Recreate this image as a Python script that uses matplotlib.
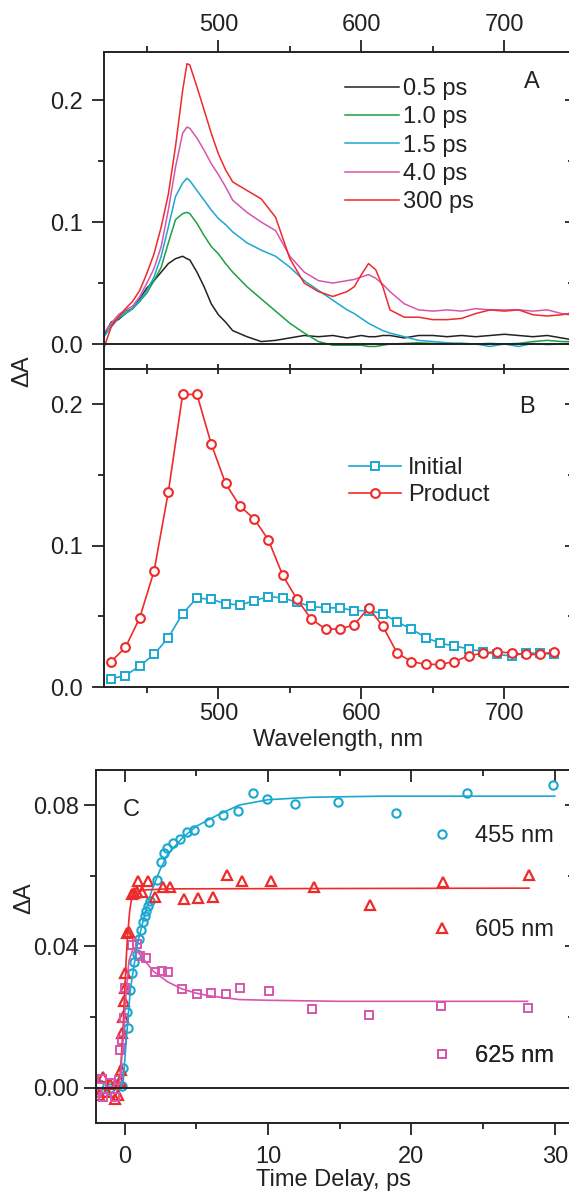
import numpy as np
import matplotlib.pyplot as plt
from matplotlib.ticker import MultipleLocator, NullFormatter

plt.rcParams['font.family'] = ['Liberation Sans', 'DejaVu Sans']

# ---- panel A: transient spectra ----
wl_a = [420, 425, 430, 435, 440, 445, 450, 455, 460, 465, 470, 475, 478, 480, 485,
        490, 495, 500, 505, 510, 520, 530, 540, 550, 560, 570, 580, 590, 595, 600,
        605, 610, 615, 620, 630, 640, 650, 660, 670, 680, 690, 700, 710, 720, 730,
        740, 745]
a_05 = [0.007, 0.018, 0.020, 0.025, 0.029, 0.037, 0.046, 0.052, 0.059, 0.066, 0.070, 0.072, 0.070, 0.069, 0.059,
        0.047, 0.033, 0.024, 0.018, 0.011, 0.006, 0.002, 0.003, 0.005, 0.007, 0.006, 0.007, 0.005, 0.006, 0.007,
        0.006, 0.006, 0.007, 0.007, 0.005, 0.007, 0.007, 0.006, 0.007, 0.006, 0.007, 0.008, 0.007, 0.006, 0.007,
        0.005, 0.004]
a_10 = [0.009, 0.016, 0.022, 0.027, 0.029, 0.035, 0.042, 0.052, 0.063, 0.083, 0.102, 0.107, 0.108, 0.107, 0.099,
        0.089, 0.080, 0.074, 0.066, 0.059, 0.047, 0.037, 0.027, 0.017, 0.009, 0.002, -0.001, -0.001, -0.001, -0.001,
        -0.002, -0.002, -0.001, 0.000, 0.0005, 0.001, 0.0005, 0.000, 0.0005, 0.000, 0.0005, 0.000, 0.0005, 0.002, 0.003,
        0.002, 0.002]
a_15 = [0.006, 0.014, 0.021, 0.025, 0.029, 0.036, 0.044, 0.055, 0.072, 0.096, 0.121, 0.132, 0.136, 0.134, 0.126,
        0.118, 0.110, 0.103, 0.098, 0.092, 0.083, 0.077, 0.072, 0.063, 0.052, 0.044, 0.036, 0.028, 0.025, 0.021,
        0.017, 0.014, 0.011, 0.009, 0.006, 0.003, 0.002, 0.001, 0.0005, 0.000, -0.002, 0.000, -0.002, 0.0005, -0.0005,
        0.000, 0.0005]
a_40 = [0.009, 0.017, 0.024, 0.028, 0.031, 0.039, 0.050, 0.062, 0.080, 0.110, 0.145, 0.173, 0.178, 0.177, 0.169,
        0.159, 0.148, 0.139, 0.129, 0.118, 0.108, 0.100, 0.093, 0.072, 0.059, 0.052, 0.050, 0.052, 0.053, 0.055,
        0.057, 0.054, 0.049, 0.043, 0.033, 0.028, 0.027, 0.028, 0.027, 0.029, 0.028, 0.028, 0.028, 0.027, 0.028,
        0.025, 0.024]
a_300 = [-0.003, 0.014, 0.022, 0.029, 0.035, 0.044, 0.058, 0.074, 0.096, 0.123, 0.162, 0.208, 0.230, 0.229, 0.211,
         0.192, 0.173, 0.156, 0.143, 0.133, 0.126, 0.119, 0.104, 0.070, 0.050, 0.043, 0.039, 0.043, 0.047, 0.057,
         0.066, 0.061, 0.047, 0.028, 0.022, 0.022, 0.020, 0.020, 0.021, 0.025, 0.028, 0.027, 0.028, 0.024, 0.023,
         0.024, 0.025]
labels_a = ['0.5 ps', '1.0 ps', '1.5 ps', '4.0 ps', '300 ps']

# ---- panel B: initial / product spectra ----
wl_b = [425, 435, 445, 455, 465, 475, 485, 495, 505, 515, 525, 535, 545, 555, 565, 575,
        585, 595, 605, 615, 625, 635, 645, 655, 665, 675, 685, 695, 705, 715, 725, 735]
initial = [0.006, 0.008, 0.015, 0.023, 0.035, 0.052, 0.063, 0.062, 0.059, 0.058, 0.061, 0.064,
           0.063, 0.060, 0.057, 0.056, 0.056, 0.054, 0.054, 0.052, 0.046, 0.041, 0.035, 0.031,
           0.029, 0.027, 0.025, 0.023, 0.022, 0.024, 0.024, 0.023]
product = [0.018, 0.028, 0.049, 0.082, 0.138, 0.207, 0.207, 0.172, 0.144, 0.128, 0.119, 0.104,
           0.079, 0.062, 0.048, 0.041, 0.041, 0.044, 0.056, 0.043, 0.024, 0.018, 0.016, 0.016,
           0.018, 0.022, 0.024, 0.025, 0.024, 0.023, 0.023, 0.025]

# ---- panel C: kinetics ----
t_455 = [-1.8, -1.4, -1.0, -0.6, -0.2, -0.1, 0.13, 0.25, 0.38, 0.53, 0.68, 0.88, 1.0, 1.13, 1.26,
         1.4, 1.5, 1.64, 1.76, 2.27, 2.52, 2.77, 2.95, 3.4, 3.86, 4.36, 4.87, 5.87, 6.88, 7.87,
         8.95, 9.9, 11.9, 14.9, 18.9, 23.9, 29.9]
d_455 = [0.001, -0.001, 0.000, 0.001, 0.0005, 0.0056, 0.0216, 0.0169, 0.0278, 0.0325, 0.0355, 0.038, 0.042, 0.0447, 0.047,
         0.0485, 0.050, 0.0515, 0.053, 0.0588, 0.064, 0.0664, 0.0678, 0.0692, 0.0703, 0.0725, 0.0728, 0.0752, 0.0773, 0.0782,
         0.0833, 0.0816, 0.0802, 0.0809, 0.0778, 0.0833, 0.0856]
t_605 = [-1.8, -1.5, -1.2, -1.0, -0.7, -0.5, -0.3, -0.23, -0.18, -0.13, -0.08, 0.0, 0.02, 0.13,
         0.33, 0.5, 0.68, 0.83, 0.93, 1.2, 1.64, 2.14, 2.65, 3.15, 4.16, 5.12, 6.18, 7.13, 8.19,
         10.2, 13.18, 17.14, 22.18, 28.23]
d_605 = [-0.002, 0.003, -0.001, 0.001, -0.003, -0.002, 0.002, 0.0052, 0.0155, 0.0202, 0.0245, 0.0282, 0.0325, 0.0438,
         0.044, 0.0548, 0.0552, 0.0555, 0.0584, 0.0555, 0.0586, 0.0541, 0.0569, 0.0568, 0.0535, 0.0536, 0.0541, 0.0602, 0.0586,
         0.0586, 0.0568, 0.0518, 0.0581, 0.0602]
t_625 = [-1.9, -1.6, -1.5, -1.0, -0.68, -0.38, -0.3, -0.18, -0.05, 0.0, 0.5, 0.88, 1.06, 1.5,
         2.1, 2.57, 3.0, 4.03, 5.04, 6.05, 7.06, 8.07, 10.08, 13.1, 17.07, 22.06, 28.1]
d_625 = [-0.0014, 0.0024, -0.0025, 0.0014, -0.0025, 0.0022, 0.0108, 0.0136, 0.0198, 0.0282, 0.0405, 0.0408, 0.0372, 0.0367,
         0.0328, 0.0332, 0.0327, 0.028, 0.0266, 0.0268, 0.0266, 0.0282, 0.0273, 0.0223, 0.0206, 0.0233, 0.0226]

# fitted curves
tf_455 = [-0.5, -0.3, -0.1, 0.1, 0.4, 0.9, 1.4, 1.9, 2.5, 3.0, 4.0, 5.0, 6.4, 8.0, 10, 13, 18, 30]
ff_455 = [0.0, 0.0, 0.002, 0.013, 0.028, 0.041, 0.049, 0.056, 0.062, 0.066, 0.0706, 0.074, 0.077, 0.080,
          0.0815, 0.0822, 0.0825, 0.0825]
tf_605 = [-0.5, -0.3, -0.1, 0.0, 0.1, 0.2, 0.35, 0.5, 0.8, 1.5, 3.0, 28.2]
ff_605 = [0.0, 0.004, 0.018, 0.027, 0.036, 0.043, 0.050, 0.054, 0.0555, 0.056, 0.0563, 0.0565]
tf_625 = [-0.5, -0.3, -0.1, 0.1, 0.3, 0.6, 1.0, 1.5, 2.0, 3.0, 4.0, 5.0, 6.0, 8.0, 10, 15, 28.1]
ff_625 = [0.0, 0.003, 0.014, 0.027, 0.036, 0.0395, 0.038, 0.0355, 0.033, 0.030, 0.028, 0.0268, 0.026,
          0.025, 0.0248, 0.0245, 0.0245]

c_black = '#222222'
c_green = '#1f9e48'
c_cyan = '#1aa8d0'
c_pink = '#d656ad'
c_red = '#ee2a2a'
txt = '#222222'
FS = 17

fig = plt.figure(figsize=(5.69, 11.96), dpi=100)
W, H = 569, 1196

def box(l, t, r, b):
    return [l / W, 1 - b / H, (r - l) / W, (b - t) / H]

axA = fig.add_axes(box(104, 52, 572, 369))
axB = fig.add_axes(box(104, 369, 572, 687))
axC = fig.add_axes(box(96, 770, 572, 1123))

def sec_ticks(ax, side, major, minor, direction, lmaj, lmin):
    # extra tick row on top / right with its own direction
    if side == 'top':
        s = ax.secondary_xaxis('top')
        axis = s.xaxis
    else:
        s = ax.secondary_yaxis('right')
        axis = s.yaxis
    axis.set_major_locator(MultipleLocator(major))
    axis.set_minor_locator(MultipleLocator(minor))
    axis.set_major_formatter(NullFormatter())
    for sp in s.spines.values():
        sp.set_visible(False)
    s.tick_params(which='both', direction=direction, width=1.3, colors=txt)
    s.tick_params(which='major', length=lmaj)
    s.tick_params(which='minor', length=lmin)
    return s

for ax in (axA, axB, axC):
    for s in ax.spines.values():
        s.set_linewidth(1.4)
        s.set_color(txt)
    ax.spines['right'].set_visible(False)
    ax.tick_params(which='both', width=1.3, colors=txt, labelsize=FS, labelcolor=txt, direction='out')
    ax.tick_params(which='major', length=8.5)
    ax.tick_params(which='minor', length=4.5)

# panel A
colors_a = [c_black, c_green, c_cyan, c_pink, c_red]
for y, c, lab in zip([a_05, a_10, a_15, a_40, a_300], colors_a, labels_a):
    axA.plot(wl_a, y, color=c, lw=1.1, label=lab)
axA.axhline(0, color=txt, lw=1.4)
axA.set_xlim(420, 747.3)
axA.set_ylim(-0.0205, 0.2396)
axA.xaxis.set_major_locator(MultipleLocator(100))
axA.xaxis.set_minor_locator(MultipleLocator(50))
axA.set_yticks([0.0, 0.1, 0.2], ['0.0', '0.1', '0.2'])
axA.yaxis.set_minor_locator(MultipleLocator(0.05))
axA.tick_params(axis='x', which='both', top=True, labeltop=True, bottom=False, labelbottom=False, pad=3)
axA.tick_params(axis='y', which='both', pad=6.5)
sec_ticks(axA, 'right', 0.1, 0.05, 'in', 5, 3)
legA = axA.legend(loc='upper left', bbox_to_anchor=(0.515, 0.918), frameon=False, fontsize=FS,
                  handlelength=2.3, handletextpad=0.15, labelspacing=0.27, borderaxespad=0, borderpad=0)
for t in legA.get_texts():
    t.set_color(txt)
axA.text(0.914, 0.905, 'A', transform=axA.transAxes, fontsize=FS, color=txt, ha='center', va='center')

# panel B
axB.plot(wl_b, initial, color=c_cyan, lw=1.2, marker='s', ms=5.5, mfc='white', mec=c_cyan, mew=1.4,
         label='Initial')
axB.plot(wl_b, product, color=c_red, lw=1.2, marker='o', ms=6.3, mfc='white', mec=c_red, mew=1.5,
         label='Product')
axB.set_xlim(420, 747.3)
axB.set_ylim(0, 0.225)
axB.xaxis.set_major_locator(MultipleLocator(100))
axB.xaxis.set_minor_locator(MultipleLocator(50))
axB.set_yticks([0.0, 0.1, 0.2], ['0.0', '0.1', '0.2'])
axB.yaxis.set_minor_locator(MultipleLocator(0.05))
axB.tick_params(axis='x', which='both', bottom=True, top=False, pad=3)
axB.tick_params(axis='y', which='both', pad=6.5)
sec_ticks(axB, 'top', 100, 50, 'inout', 7.5, 7.5)
sec_ticks(axB, 'right', 0.1, 0.05, 'in', 5, 3)
axB.set_xlabel('Wavelength, nm', fontsize=FS, color=txt, labelpad=3)
legB = axB.legend(loc='upper left', bbox_to_anchor=(0.524, 0.724), frameon=False, fontsize=FS,
                  handlelength=2.2, handletextpad=0.3, labelspacing=0.22, borderaxespad=0, borderpad=0)
for t in legB.get_texts():
    t.set_color(txt)
axB.text(0.904, 0.88, 'B', transform=axB.transAxes, fontsize=FS, color=txt, ha='center', va='center')

fig.text(22 / W, 1 - 371 / H, 'ΔA', rotation=90, fontsize=FS, color=txt, ha='center', va='center')

# panel C
p455, = axC.plot(t_455, d_455, ls='none', marker='o', ms=6, mfc='none', mec=c_cyan, mew=1.5, label='455 nm')
p605, = axC.plot(t_605, d_605, ls='none', marker='^', ms=7, mfc='none', mec=c_red, mew=1.6, label='605 nm')
p625, = axC.plot(t_625, d_625, ls='none', marker='s', ms=5.5, mfc='none', mec=c_pink, mew=1.4, label='625 nm')
axC.plot(tf_455, ff_455, color=c_cyan, lw=1.2)
axC.plot(tf_605, ff_605, color=c_red, lw=1.2)
axC.plot(tf_625, ff_625, color=c_pink, lw=1.2)
axC.axhline(0, color=txt, lw=1.4)
axC.set_xlim(-2, 31.2)
axC.set_ylim(-0.0099, 0.0899)
axC.xaxis.set_major_locator(MultipleLocator(10))
axC.xaxis.set_minor_locator(MultipleLocator(5))
axC.set_yticks([0.0, 0.04, 0.08], ['0.00', '0.04', '0.08'])
axC.yaxis.set_minor_locator(MultipleLocator(0.02))
axC.tick_params(axis='x', which='both', top=False, pad=8)
axC.tick_params(axis='y', which='both', pad=4)
sec_ticks(axC, 'top', 10, 5, 'in', 8.5, 4)
sec_ticks(axC, 'right', 0.04, 0.02, 'in', 5, 3)
axC.set_xlabel('Time Delay, ps', fontsize=FS, color=txt, labelpad=1)
fig.text(24 / W, 1 - 898 / H, 'ΔA', rotation=90, fontsize=FS, color=txt, ha='center', va='center')
for h, yy in [(p455, 0.813), (p605, 0.547), (p625, 0.19)]:
    lg = axC.legend(handles=[h], loc='center left', bbox_to_anchor=(0.702, yy), frameon=False, fontsize=FS,
                    handlelength=1.0, handletextpad=0.88, borderaxespad=0, borderpad=0, numpoints=1)
    lg.get_texts()[0].set_color(txt)
    axC.add_artist(lg)
axC.text(0.075, 0.887, 'C', transform=axC.transAxes, fontsize=FS, color=txt, ha='center', va='center')

fig.savefig('out.png', dpi=100)
